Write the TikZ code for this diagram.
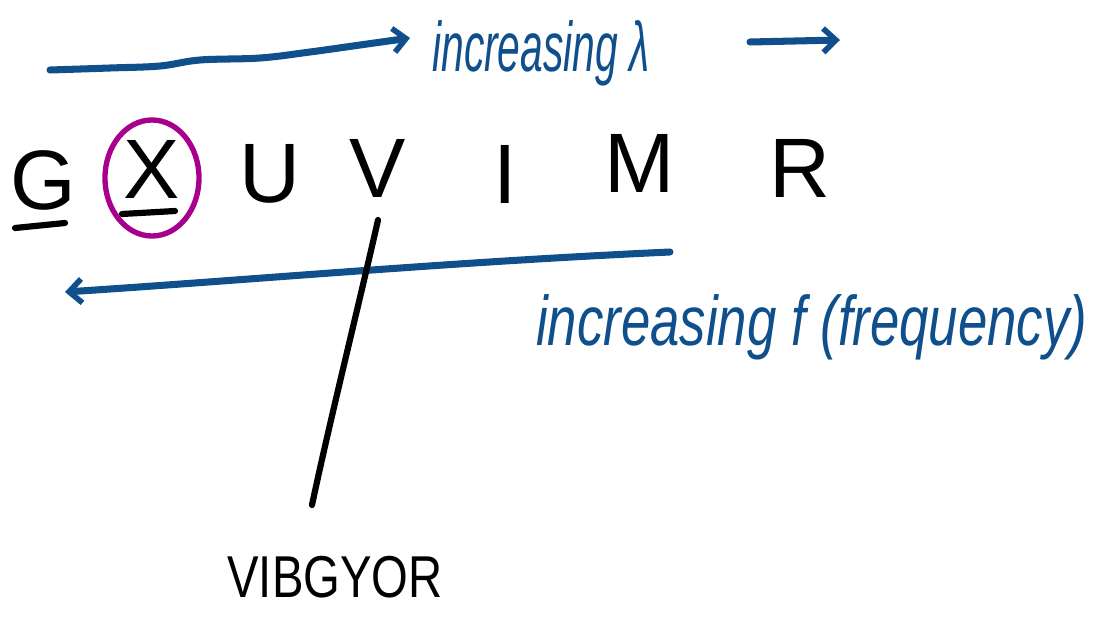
\documentclass[tikz,border=0pt]{standalone}
\usepackage{fontspec}
\usepackage{graphicx}
\setmainfont{Liberation Sans}
\usetikzlibrary{arrows.meta,shapes.geometric}
\definecolor{inkblue}{HTML}{0F4F8C}
\definecolor{inkpurple}{HTML}{A8008C}
\tikzset{
  blueink/.style={draw=inkblue, line width=5pt, line cap=round, line join=round},
  blackink/.style={draw=black, line width=4.4pt, line cap=round},
  barb/.style={-{Straight Barb[length=9pt,width=17pt,line width=4pt]}},
  letter/.style={font=\fontsize{60}{66}\selectfont, inner sep=0pt, text=black},
  bluetext/.style={font=\fontsize{50}{56}\selectfont\itshape, inner sep=0pt, text=inkblue, anchor=base west},
}
\begin{document}
\begin{tikzpicture}[x=0.025cm, y=-0.025cm]
\useasboundingbox (0,0) rectangle (1109,617);
% top arrow
\draw[blueink, barb] plot[smooth, tension=0.6] coordinates {(50,70) (110,68) (160,66) (200,60) (260,58) (310,52) (360,45) (410,38)};
\node[bluetext] (lam) at (432,72) {\scalebox{0.58}[1]{increasing λ}};
\coordinate (t3) at (750,42);
\coordinate (t4) at (840,40);
\draw[blueink, barb] (t3) -- (t4);
% letters
\node[letter] (G) at (43,180) {G};
\node[letter] (X) at (152,169) {X};
\node[letter] (U) at (270,174) {U};
\node[letter] (V) at (378,168) {V};
\node[letter] (I) at (505,174) {I};
\node[letter] (M) at (640,163) {M};
\node[letter] (R) at (800,168) {R};
\draw[blackink] (15,228) -- (65,223);
\draw[blackink] (122,214) -- (175,211);
\node[draw=inkpurple, line width=3.8pt, ellipse, minimum width=2.35cm, minimum height=2.9cm, inner sep=0pt] (circ) at (152,178) {};
% bottom arrow
\coordinate (b1) at (670,252);
\coordinate (b2) at (65,292);
\draw[blueink, barb] (b1) .. controls (450,262) and (250,280) .. (b2);
\node[bluetext] (freq) at (536,345) {\scalebox{0.75}[1]{increasing f (frequency)}};
% vertical line
\coordinate (v1) at (378,220);
\coordinate (v2) at (312,505);
\draw[blackink] (v1) .. controls (360,300) and (330,420) .. (v2);
\node[letter, font=\fontsize{42}{48}\selectfont] (vib) at (335,577) {\scalebox{0.8}[1]{VIBGYOR}};
\end{tikzpicture}
\end{document}
